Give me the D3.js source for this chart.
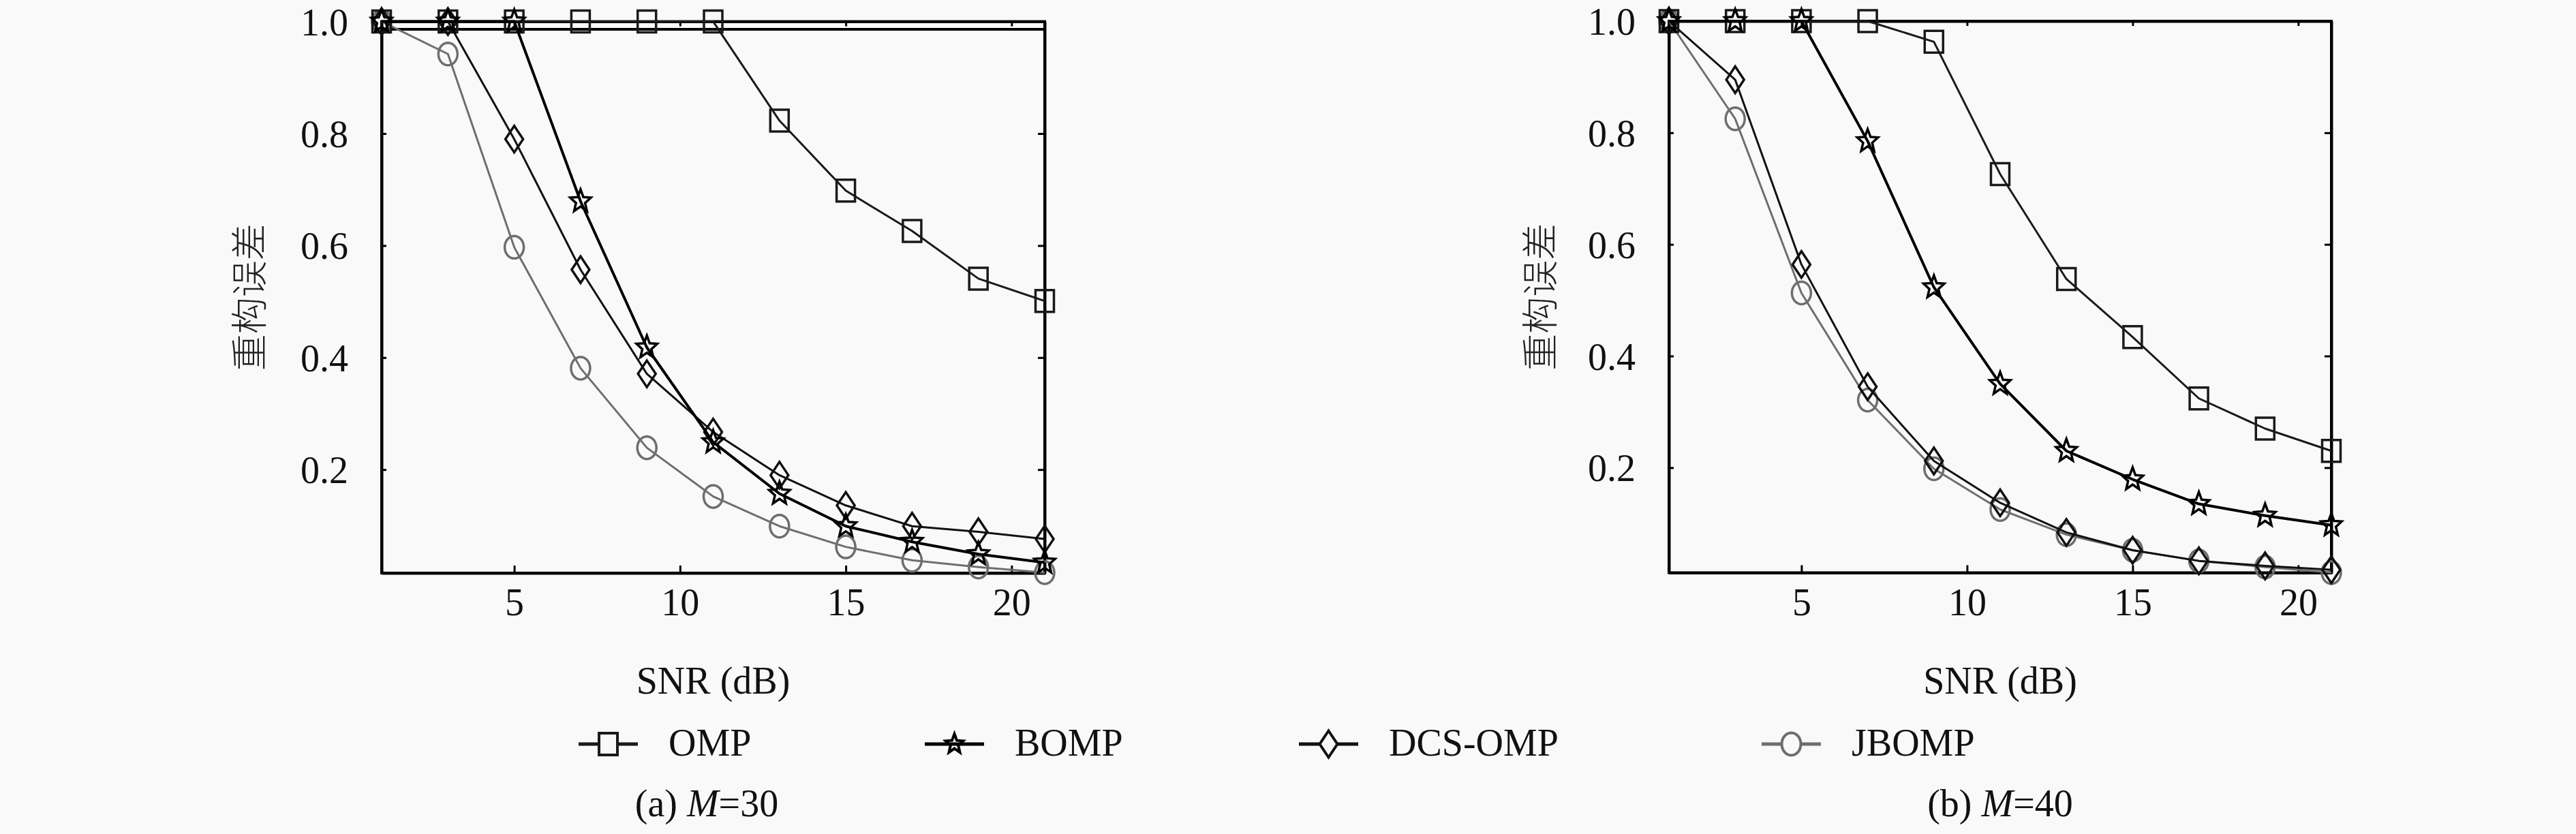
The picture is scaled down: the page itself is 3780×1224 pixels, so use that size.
<!DOCTYPE html>
<html><head><meta charset="utf-8">
<script src="https://cdn.jsdelivr.net/npm/d3@7/dist/d3.min.js"></script>
<style>
html,body{margin:0;padding:0;background:#f9f9f9;}
svg{display:block;}
</style></head>
<body>
<script>
// ---------- DATA ----------
const snr = [1, 3, 5, 7, 9, 11, 13, 15, 17, 19, 21];
const xTicks = [5, 10, 15, 20];
const yTicks = [0.2, 0.4, 0.6, 0.8, 1.0];
const seriesNames = ["OMP", "BOMP", "DCS-OMP", "JBOMP"];
const xLabel = "SNR (dB)";
const yLabel = "重构误差";
const captionPrefix = ["(a) ", "(b) "];
const captionM = ["30", "40"];

// M = 30
const ompM30   = [1.0, 1.0, 1.0, 1.0, 1.0, 1.0, 0.823, 0.698, 0.626, 0.541, 0.501];
const bompM30  = [1.0, 1.0, 1.0, 0.679, 0.418, 0.249, 0.157, 0.099, 0.071, 0.049, 0.034];
const dcsM30   = [1.0, 1.0, 0.790, 0.557, 0.371, 0.267, 0.190, 0.136, 0.099, 0.089, 0.076];
const jbompM30 = [1.0, 0.942, 0.597, 0.381, 0.239, 0.152, 0.099, 0.062, 0.038, 0.026, 0.016];
const refLineM30 = 0.986;

// M = 40
const ompM40   = [1.0, 1.0, 1.0, 1.0, 0.963, 0.726, 0.538, 0.434, 0.324, 0.270, 0.230];
const bompM40  = [1.0, 1.0, 1.0, 0.785, 0.523, 0.350, 0.230, 0.179, 0.135, 0.114, 0.097];
const dcsM40   = [1.0, 0.895, 0.564, 0.345, 0.212, 0.137, 0.084, 0.052, 0.033, 0.024, 0.017];
const jbompM40 = [1.0, 0.825, 0.513, 0.321, 0.198, 0.125, 0.080, 0.052, 0.033, 0.022, 0.012];

// ---------- LAYOUT / STYLE ----------
const W = 3780, H = 1224;
const FONT = "'Liberation Serif','DejaVu Serif',serif";
const CJK = "'Noto Sans CJK SC','Noto Sans CJK JP',sans-serif";
const styles = {
  "OMP":     {color: "#1a1a1a", width: 3,   marker: "square"},
  "BOMP":    {color: "#000000", width: 4,   marker: "star"},
  "DCS-OMP": {color: "#111111", width: 3,   marker: "diamond"},
  "JBOMP":   {color: "#6e6e6e", width: 3,   marker: "circle"}
};
const panels = [
  {x0: 560, x1: 1533, yTop: 31.6, yBot: 841, yMin: 0.0153,
   series: {"OMP": ompM30, "BOMP": bompM30, "DCS-OMP": dcsM30, "JBOMP": jbompM30},
   ref: refLineM30, capX: 1037, ylabX: 362},
  {x0: 2449, x1: 3421, yTop: 31, yBot: 840.5, yMin: 0.0118,
   series: {"OMP": ompM40, "BOMP": bompM40, "DCS-OMP": dcsM40, "JBOMP": jbompM40},
   ref: null, capX: 2935, ylabX: 2256}
];
const legendLineX = [849, 1357, 1906, 2585];
const legendY = 1092;

function markerPath(type, s) {
  s = s || 1;
  const p = d3.path();
  if (type === "square") {
    const w = 13.5 * s, h = 16 * s;
    p.rect(-w, -h, 2 * w, 2 * h);
  } else if (type === "diamond") {
    const w = 13 * s, h = 19.5 * s;
    p.moveTo(0, -h); p.lineTo(w, 0); p.lineTo(0, h); p.lineTo(-w, 0); p.closePath();
  } else if (type === "circle") {
    const rx = 14 * s, ry = 16.5 * s;
    const n = 48;
    for (let i = 0; i <= n; i++) {
      const a = i / n * 2 * Math.PI;
      const x = rx * Math.cos(a), y = ry * Math.sin(a);
      if (i === 0) p.moveTo(x, y); else p.lineTo(x, y);
    }
    p.closePath();
  } else if (type === "star") {
    const ro = 16 * s, ri = 7 * s, sy = 1.1;
    for (let i = 0; i < 10; i++) {
      const r = i % 2 === 0 ? ro : ri;
      const a = -Math.PI / 2 + i * Math.PI / 5;
      const x = r * Math.cos(a), y = r * Math.sin(a) * sy;
      if (i === 0) p.moveTo(x, y); else p.lineTo(x, y);
    }
    p.closePath();
  }
  return p.toString();
}

const svg = d3.select("body").append("svg")
  .attr("width", W).attr("height", H)
  .attr("viewBox", `0 0 ${W} ${H}`);
svg.append("rect").attr("width", W).attr("height", H).attr("fill", "#f9f9f9");

panels.forEach((pn, pi) => {
  const x = d3.scaleLinear().domain([1, 21]).range([pn.x0, pn.x1]);
  const y = d3.scaleLinear().domain([pn.yMin, 1.0]).range([pn.yBot, pn.yTop]);
  const g = svg.append("g");

  g.append("rect").attr("x", pn.x0).attr("y", pn.yTop)
    .attr("width", pn.x1 - pn.x0).attr("height", pn.yBot - pn.yTop)
    .attr("fill", "none").attr("stroke", "#000").attr("stroke-width", 4);

  const bottom = g.append("g").attr("transform", `translate(0,${pn.yBot})`)
    .call(d3.axisBottom(x).tickValues(xTicks).tickSizeInner(-11).tickSizeOuter(0).tickPadding(62));
  const top = g.append("g").attr("transform", `translate(0,${pn.yTop})`)
    .call(d3.axisTop(x).tickValues(xTicks).tickSizeInner(-7).tickSizeOuter(0).tickFormat(""));
  const left = g.append("g").attr("transform", `translate(${pn.x0},0)`)
    .call(d3.axisLeft(y).tickValues(yTicks).tickSizeInner(-7).tickSizeOuter(0)
      .tickPadding(49).tickFormat(d3.format(".1f")));
  const right = g.append("g").attr("transform", `translate(${pn.x1},0)`)
    .call(d3.axisRight(y).tickValues(yTicks).tickSizeInner(-10).tickSizeOuter(0).tickFormat(""));
  [bottom, top, left, right].forEach(a => {
    a.select(".domain").attr("stroke", "#000").attr("stroke-width", 4);
    a.selectAll(".tick line").attr("stroke", "#000").attr("stroke-width", 3);
    a.selectAll(".tick text").attr("font-family", FONT).attr("font-size", 56).attr("fill", "#111");
  });
  bottom.selectAll(".tick text").attr("dy", "0");
  left.selectAll(".tick text").attr("dy", "0.35em");

  if (pn.ref !== null) {
    g.append("line").attr("x1", pn.x0).attr("x2", pn.x1)
      .attr("y1", y(pn.ref)).attr("y2", y(pn.ref))
      .attr("stroke", "#000").attr("stroke-width", 4);
  }

  const order = ["JBOMP", "OMP", "DCS-OMP", "BOMP"];
  const line = d3.line().x((d, i) => x(snr[i])).y(d => y(d));
  order.forEach(name => {
    const st = styles[name];
    const vals = pn.series[name];
    const sg = g.append("g");
    sg.append("path").datum(vals).attr("d", line)
      .attr("fill", "none").attr("stroke", st.color).attr("stroke-width", st.width)
      .attr("stroke-linejoin", "round");
    sg.selectAll("path.m").data(vals).join("path").attr("class", "m")
      .attr("transform", (d, i) => `translate(${x(snr[i])},${y(d)})`)
      .attr("d", markerPath(st.marker))
      .attr("fill", "none").attr("stroke", st.color).attr("stroke-width", 3.5);
  });

  g.append("text").attr("x", (pn.x0 + pn.x1) / 2).attr("y", 1018)
    .attr("text-anchor", "middle").attr("font-family", FONT).attr("font-size", 56)
    .attr("fill", "#111").text(xLabel);

  g.append("text")
    .attr("transform", `translate(${pn.ylabX},${(pn.yTop + pn.yBot) / 2}) rotate(-90)`)
    .attr("text-anchor", "middle").attr("dominant-baseline", "central")
    .attr("font-family", CJK).attr("font-size", 54).attr("font-weight", 300)
    .attr("fill", "#222").text(yLabel);

  const cap = g.append("text").attr("x", pn.capX).attr("y", 1198)
    .attr("text-anchor", "middle").attr("font-family", FONT).attr("font-size", 56).attr("fill", "#111");
  cap.append("tspan").text(captionPrefix[pi]);
  cap.append("tspan").attr("font-style", "italic").text("M");
  cap.append("tspan").text("=" + captionM[pi]);
});

const lg = svg.append("g");
seriesNames.forEach((name, i) => {
  const st = styles[name];
  const lx = legendLineX[i];
  lg.append("line").attr("x1", lx).attr("x2", lx + 87)
    .attr("y1", legendY).attr("y2", legendY)
    .attr("stroke", st.color).attr("stroke-width", 5);
  lg.append("path").attr("transform", `translate(${lx + 43.5},${legendY})`)
    .attr("d", markerPath(st.marker, name === "BOMP" ? 0.85 : 1))
    .attr("fill", name === "BOMP" ? "none" : "#f9f9f9")
    .attr("stroke", st.color).attr("stroke-width", 4);
  lg.append("text").attr("x", lx + 132).attr("y", 1109)
    .attr("font-family", FONT).attr("font-size", 56).attr("fill", "#111").text(name);
});
</script>
</body></html>
